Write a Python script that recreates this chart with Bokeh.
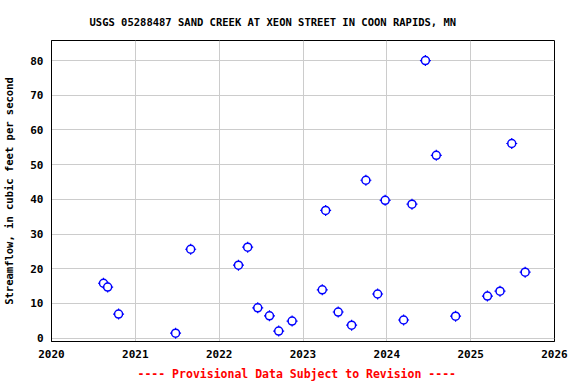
from bokeh.plotting import figure
from bokeh.models import Title, Range1d, FixedTicker
from bokeh.embed import file_html
from bokeh.resources import INLINE

# Decimal-year dates of field measurements and streamflow (cfs)
dates = [2020.62, 2020.67, 2020.80, 2021.48, 2021.66, 2022.23, 2022.34, 2022.46,
         2022.60, 2022.71, 2022.87, 2023.23, 2023.27, 2023.42, 2023.58, 2023.75,
         2023.89, 2023.98, 2024.20, 2024.30, 2024.46, 2024.59, 2024.82, 2025.20,
         2025.35, 2025.49, 2025.65]
flows = [15.8, 14.7, 6.9, 1.4, 25.6, 21.0, 26.2, 8.7,
         6.4, 2.0, 4.9, 13.9, 36.8, 7.5, 3.7, 45.5,
         12.7, 39.7, 5.2, 38.6, 80.0, 52.7, 6.3, 12.1,
         13.5, 56.1, 19.0]
x_ticks = [2020, 2021, 2022, 2023, 2024, 2025, 2026]
y_ticks = [0, 10, 20, 30, 40, 50, 60, 70, 80]

title_text = "USGS 05288487 SAND CREEK AT XEON STREET IN COON RAPIDS, MN"
note_text = "---- Provisional Data Subject to Revision ----"
ylabel = "Streamflow, in cubic feet per second"

FONT = "DejaVu Sans Mono"

p = figure(width=576, height=384, output_backend="svg", toolbar_location=None,
           x_range=Range1d(2020, 2026), y_range=Range1d(-1.0, 85.8),
           min_border_left=51, min_border_right=22, min_border_top=40, min_border_bottom=42)

p.title = Title(text=title_text, align="left", offset=38,
                text_font=FONT, text_font_size="10.5px", text_font_style="bold",
                text_color="black", standoff=25)

p.add_layout(Title(text=note_text, align="left", offset=86,
                   text_font=FONT, text_font_size="11.5px", text_font_style="bold",
                   text_color="red", standoff=8), "below")

p.outline_line_color = "black"
p.outline_line_width = 1

for ax in (p.xaxis[0], p.yaxis[0]):
    ax.axis_line_color = "black"
    ax.major_tick_in = 0
    ax.major_tick_out = 0
    ax.minor_tick_in = 0
    ax.minor_tick_out = 0
    ax.major_label_text_font = FONT
    ax.major_label_text_font_size = "11px"
    ax.major_label_text_font_style = "bold"
    ax.major_label_text_color = "black"

p.xaxis.ticker = FixedTicker(ticks=x_ticks)
p.yaxis.ticker = FixedTicker(ticks=y_ticks)
p.xaxis.major_label_standoff = 8
p.yaxis.major_label_standoff = 8

p.yaxis.axis_label = ylabel
p.yaxis.axis_label_text_font = FONT
p.yaxis.axis_label_text_font_size = "10.5px"
p.yaxis.axis_label_text_font_style = "bold"
p.yaxis.axis_label_text_color = "black"
p.yaxis.axis_label_standoff = 12

p.xgrid.grid_line_color = "#cccccc"
p.ygrid.grid_line_color = "#cccccc"
p.xgrid.ticker = FixedTicker(ticks=x_ticks)
p.ygrid.ticker = FixedTicker(ticks=y_ticks)

p.scatter(dates, flows, marker="cross", size=11, line_color="blue", line_width=1.2)
p.scatter(dates, flows, marker="circle", size=8, line_color="blue", line_width=1.5,
          fill_color="white")

open("out.html", "w").write(file_html(p, INLINE))
